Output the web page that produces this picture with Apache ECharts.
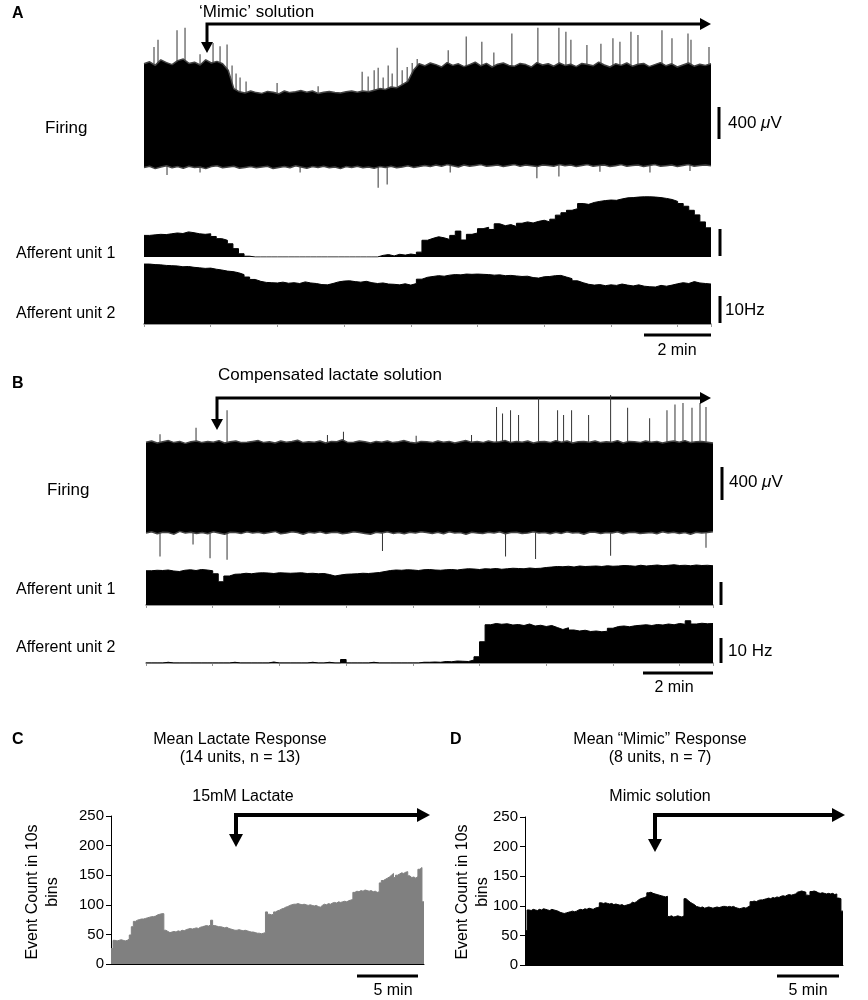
<!DOCTYPE html>
<html>
<head>
<meta charset="utf-8">
<title>Afferent firing responses</title>
<script src="https://cdn.jsdelivr.net/npm/echarts/dist/echarts.min.js"></script>
<style>
    html, body { margin: 0; padding: 0; background: #fff; }
    #main { width: 868px; height: 1000px; }
</style>
</head>
<body>
<div id="main"></div>
<script>
// panels A and B: 10 s bins over 17 min (102 bins)
const binMin = 1 / 6
const traceMin = 17

// A - raw firing envelope (uV), one value per bin
const aFireTop = [
    640, 665, 620, 690, 655, 630, 680, 700, 645, 660,
    625, 690, 650, 670, 640, 560, 330, 290, 275, 300,
    280, 270, 295, 285, 265, 300, 280, 290, 305, 285,
    300, 270, 285, 295, 280, 275, 290, 300, 285, 300,
    290, 310, 330, 320, 350, 340, 380, 420, 560, 640,
    615, 650, 630, 600, 655, 620, 640, 605, 630, 660,
    615, 645, 600, 635, 650, 620, 610, 645, 630, 600,
    655, 625, 640, 610, 650, 620, 635, 605, 645, 630,
    615, 660, 625, 600, 640, 620, 650, 610, 635, 645,
    605, 630, 655, 615, 640, 600, 625, 650, 610, 635,
    620, 640
]
const aFireBottom = [
    -655, -640, -670, -650, -635, -660, -645, -665, -640, -655,
    -650, -670, -645, -635, -660, -650, -640, -665, -655, -645,
    -660, -650, -640, -670, -655, -645, -660, -635, -650, -665,
    -645, -655, -640, -660, -650, -670, -645, -655, -640, -660,
    -650, -665, -645, -655, -640, -660, -650, -635, -655, -645,
    -630, -645, -625, -640, -620, -635, -650, -625, -640, -630,
    -620, -640, -635, -625, -645, -630, -620, -640, -625, -635,
    -645, -625, -630, -640, -620, -635, -625, -645, -630, -620,
    -640, -630, -625, -645, -635, -620, -640, -630, -625, -645,
    -630, -620, -640, -635, -625, -645, -630, -620, -640, -630,
    -625, -635
]
// single spikes sticking out of the envelope: [minute, uV]
const aSpikes = [
    [0.30, 850], [0.42, 940], [0.99, 1060], [1.23, 1090], [1.68, 760],
    [2.07, 900], [2.28, 860], [2.49, 880], [2.64, 620], [2.76, 520],
    [2.88, 470], [3.06, 420], [3.99, 400], [5.22, 360], [6.54, 540],
    [6.72, 480], [6.90, 560], [7.02, 590], [7.17, 470], [7.32, 620],
    [7.44, 520], [7.59, 840], [7.74, 560], [7.89, 600], [8.04, 650],
    [8.19, 700], [9.12, 810], [9.66, 980], [10.13, 915], [10.49, 780],
    [11.03, 1020], [11.81, 1090], [12.44, 1090], [12.65, 1040], [12.80, 940],
    [13.28, 875], [13.70, 890], [14.06, 960], [14.27, 915], [14.60, 1040],
    [14.81, 1000], [15.53, 1060], [15.83, 960], [16.31, 1020], [16.40, 940],
    [16.94, 850],
    [0.69, -750], [1.68, -720], [4.68, -720], [7.02, -910], [7.29, -870],
    [9.18, -720], [11.78, -790], [12.44, -770], [13.67, -710], [15.17, -720],
    [16.37, -700]
]
// A - afferent unit rates (Hz)
const aUnit1 = [
    8.0, 8.2, 8.4, 8.3, 8.6, 8.9, 8.7, 9.3, 9.0, 8.6,
    8.4, 8.6, 7.6, 6.8, 6.2, 4.9, 3.1, 1.2, 0.3, 0,
    0, 0, 0, 0, 0, 0, 0, 0, 0, 0,
    0, 0, 0, 0, 0, 0, 0, 0, 0, 0,
    0, 0, 0.6, 0.9, 0.4, 1.0, 0.7, 1.1, 0.8, 1.8,
    6.2, 6.9, 7.5, 7.1, 6.5, 8.0, 9.6, 6.3, 8.4, 8.9,
    10.5, 11.0, 10.2, 12.3, 11.6, 12.0, 11.3, 12.5, 13.0, 12.6,
    13.2, 13.6, 13.0, 14.0, 15.5, 16.4, 17.3, 17.9, 19.8, 19.5,
    20.2, 20.6, 20.9, 21.1, 21.0, 21.5, 21.9, 22.0, 22.2, 22.3,
    22.3, 22.2, 22.0, 21.7, 21.3, 20.6, 19.8, 18.8, 17.3, 15.6,
    13.0, 10.8
]
const aUnit2 = [
    22.2, 22.0, 21.9, 21.7, 21.6, 21.5, 21.2, 21.3, 21.0, 20.8,
    20.6, 20.7, 20.3, 20.0, 19.6, 19.4, 19.0, 18.3, 17.4, 16.5,
    15.8, 15.4, 15.3, 15.2, 15.5, 15.1, 15.3, 15.0, 15.6, 15.2,
    15.0, 14.6, 14.5, 15.0, 15.6, 15.9, 16.0, 15.7, 15.5, 15.8,
    15.3, 15.0, 15.2, 14.8, 14.7, 14.5, 14.9, 14.4, 15.0, 16.6,
    17.3, 17.6, 17.9, 17.7, 18.1, 18.3, 18.2, 18.5, 18.4, 18.5,
    18.4, 18.3, 18.1, 18.2, 17.9, 18.0, 17.8, 17.6, 17.7, 17.2,
    17.0, 17.5, 17.6, 17.9, 18.0, 17.4, 16.8, 16.0, 15.3, 14.7,
    14.4, 14.6, 14.2, 14.5, 14.3, 14.8, 14.4, 14.1, 14.5, 14.0,
    13.8, 13.7, 14.3, 14.0, 14.4, 14.9, 15.3, 15.0, 15.7, 15.2,
    15.0, 14.8
]

// B - raw firing envelope (uV)
const bFireTop = [
    560, 575, 550, 565, 580, 555, 570, 545, 565, 575,
    555, 570, 560, 580, 550, 565, 575, 555, 560, 570,
    580, 555, 565, 550, 575, 560, 570, 585, 555, 565,
    560, 575, 550, 570, 565, 590, 555, 560, 575, 565,
    550, 570, 560, 575, 555, 565, 580, 560, 550, 570,
    565, 555, 575, 560, 570, 550, 565, 580, 560, 570,
    555, 575, 560, 565, 580, 555, 570, 560, 575, 550,
    565, 570, 555, 580, 560, 575, 550, 565, 570, 560,
    575, 555, 565, 560, 580, 550, 570, 565, 555, 575,
    560, 570, 550, 565, 575, 560, 580, 555, 565, 570,
    560, 550
]
const bFireBottom = [
    -575, -560, -585, -565, -570, -590, -555, -575, -565, -580,
    -570, -585, -560, -575, -590, -565, -570, -580, -560, -575,
    -565, -580, -570, -555, -585, -575, -560, -570, -590, -565,
    -575, -560, -580, -570, -565, -585, -575, -560, -570, -580,
    -590, -565, -575, -560, -580, -570, -585, -565, -575, -560,
    -570, -580, -565, -585, -560, -575, -570, -590, -565, -575,
    -580, -565, -575, -560, -585, -570, -565, -580, -575, -560,
    -575, -570, -585, -565, -580, -560, -575, -570, -590, -565,
    -565, -580, -570, -575, -560, -585, -570, -565, -580, -575,
    -570, -585, -560, -575, -565, -580, -570, -590, -565, -575,
    -570, -560
]
const bSpikes = [
    [0.42, 660], [1.50, 740], [2.43, 960], [5.44, 650], [5.92, 690],
    [8.10, 640], [9.76, 650], [10.51, 1000], [10.69, 920], [10.93, 960],
    [11.17, 900], [11.77, 1110], [12.34, 960], [12.52, 900], [12.76, 960],
    [13.27, 900], [13.93, 1150], [14.44, 990], [15.10, 860], [15.62, 960],
    [15.86, 1030], [16.10, 1050], [16.37, 990], [16.61, 1050], [16.79, 1000],
    [0.42, -870], [1.41, -720], [1.92, -890], [2.43, -910], [7.09, -800],
    [10.78, -870], [11.68, -900], [13.93, -860], [16.79, -760]
]
const bUnit1 = [
    13.7, 13.9, 13.8, 14.0, 13.6, 13.4, 13.9, 14.1, 13.8, 14.2,
    14.0, 13.7, 12.5, 9.3, 11.6, 12.3, 12.4, 12.7, 12.5, 12.8,
    12.9, 12.8, 12.6, 12.9, 12.8, 12.7, 12.8, 12.9, 12.6, 12.7,
    12.5, 12.6, 12.2, 11.6, 12.0, 12.3, 12.4, 12.5, 12.7, 12.6,
    12.8, 13.0, 13.4, 13.8, 14.0, 13.9, 14.1, 14.0, 13.8, 14.1,
    14.2, 14.0, 13.9, 14.1, 14.2, 14.0, 14.3, 14.5, 14.4, 14.2,
    14.5, 14.4, 14.6, 14.3, 14.5, 14.7, 14.6, 14.5, 14.8, 14.6,
    14.7, 15.0, 15.2, 15.4, 15.3, 15.5, 15.2, 15.6, 15.4, 15.5,
    15.6, 15.4, 15.7, 15.5, 15.6, 15.8, 15.7, 15.5, 15.9, 15.6,
    15.8, 16.0, 15.7, 15.9, 16.1, 15.8, 15.9, 15.7, 16.0, 15.8,
    15.9, 15.7
]
const bUnit2 = [
    0, 0, 0, 0.3, 0, 0, 0, 0, 0, 0,
    0, 0, 0, 0, 0, 0.3, 0, 0, 0, 0,
    0, 0, 0.4, 0, 0, 0, 0, 0, 0, 0.3,
    0, 0, 0.3, 0, 0, 1.4, 0, 0, 0, 0,
    0.3, 0, 0, 0, 0, 0, 0, 0, 0, 0.3,
    0.3, 0.4, 0.3, 0.6, 0.5, 0.8, 0.7, 0.6, 1.2, 2.5,
    8.5, 15.3, 15.8, 15.5, 15.7, 15.2, 15.4, 15.0, 15.6, 14.8,
    15.1, 14.6, 15.0, 14.2, 13.4, 14.1, 13.2, 12.8, 13.1, 12.6,
    12.8, 12.5, 12.7, 13.9, 14.6, 14.8, 14.5, 14.9, 15.1, 15.3,
    15.0, 15.4, 15.2, 15.6, 15.3, 15.8, 15.5, 16.9, 15.6, 15.9,
    15.7, 15.8
]

// C and D: mean event count per 10 s bin (154 bins)
const lactateMean = [
    26, 40, 39, 40, 41, 40, 39, 40, 42, 49,
    63, 72, 74, 75, 76, 76, 77, 78, 79, 80,
    80, 81, 83, 84, 85, 85, 57, 55, 53, 54,
    55, 54, 56, 55, 57, 56, 58, 59, 60, 59,
    60, 61, 60, 62, 63, 64, 65, 64, 66, 74,
    65, 64, 63, 63, 62, 61, 62, 60, 59, 58,
    57, 57, 58, 57, 56, 57, 56, 55, 54, 54,
    53, 52, 52, 51, 52, 53, 88, 84, 83, 84,
    88, 90, 91, 93, 94, 96, 97, 99, 100, 101,
    101, 102, 101, 100, 101, 100, 99, 100, 99, 98,
    99, 97, 96, 99, 101, 100, 102, 101, 103, 104,
    103, 105, 104, 105, 106, 105, 107, 108, 109, 121,
    123, 122, 124, 123, 125, 124, 123, 124, 122, 123,
    121, 122, 137, 141, 143, 145, 147, 150, 153, 146,
    150, 152, 154, 153, 155, 156, 149, 146, 147, 145,
    148, 160, 163, 105
]
const mimicMean = [
    58, 93, 92, 94, 93, 92, 94, 93, 95, 94,
    93, 92, 94, 93, 92, 91, 89, 88, 87, 88,
    89, 90, 91, 90, 91, 93, 94, 93, 95, 94,
    96, 95, 94, 96, 97, 98, 105, 104, 105, 104,
    103, 104, 102, 103, 102, 101, 102, 100, 101, 102,
    103, 106, 105, 107, 110, 112, 113, 114, 116, 122,
    123, 121, 120, 119, 118, 117, 116, 115, 116, 82,
    83, 81, 82, 83, 82, 81, 83, 112, 109, 106,
    104, 102, 99, 98, 97, 98, 96, 97, 98, 97,
    96, 97, 98, 97, 98, 99, 99, 98, 99, 98,
    99, 97, 96, 95, 96, 97, 96, 98, 100, 107,
    108, 107, 109, 110, 110, 111, 112, 113, 112, 114,
    113, 115, 114, 116, 117, 116, 118, 119, 118, 119,
    120, 123, 124, 125, 124, 123, 118, 117, 124, 125,
    124, 122, 121, 122, 121, 120, 121, 120, 121, 119,
    120, 113, 112, 91
]
const countTicks = [0, 50, 100, 150, 200, 250]

const FONT = 'Liberation Sans, Arial, sans-serif'

// histogram: hold each bin value until the next bin
function steps(values, dt) {
    let pts = values.map((v, i) => [i * dt, v])
    pts.push([values.length * dt, values[values.length - 1]])
    return pts
}

// envelope points spread over the whole trace
function envelope(values, span) {
    return values.map((v, i) => [i * span / (values.length - 1), v])
}

function hiddenAxis(grid, min, max) {
    return { type: 'value', gridIndex: grid, min: min, max: max, show: false }
}

function baseAxis(grid, ticks) {
    return {
        type: 'value', gridIndex: grid, min: 0, max: traceMin, interval: 2,
        axisLine: { show: true, lineStyle: { color: '#777', width: 1.5 } },
        axisTick: { show: ticks, length: 3, lineStyle: { color: '#999' } },
        axisLabel: { show: false },
        splitLine: { show: false }
    }
}

function areaLine(x, y, data, color, step, edge) {
    return {
        type: 'line', xAxisIndex: x, yAxisIndex: y, data: data,
        step: step ? 'end' : false, symbol: 'none', silent: true,
        lineStyle: { color: edge || color, width: edge ? 1.5 : 1 },
        areaStyle: { color: color, opacity: 1 }
    }
}

function spikeBars(x, y, data) {
    return {
        type: 'bar', xAxisIndex: x, yAxisIndex: y, data: data,
        barWidth: 1, silent: true, itemStyle: { color: '#333' }
    }
}

function countAxis(grid) {
    return {
        type: 'value', gridIndex: grid,
        min: countTicks[0], max: countTicks[countTicks.length - 1],
        interval: countTicks[1] - countTicks[0],
        axisLine: { show: true, lineStyle: { color: '#000', width: 1 } },
        axisTick: { show: true, length: 5, lineStyle: { color: '#000' } },
        axisLabel: { margin: 7, fontSize: 15, color: '#000', fontFamily: FONT },
        splitLine: { show: false }
    }
}

function binAxis(grid, n) {
    return {
        type: 'value', gridIndex: grid, min: 0, max: n,
        axisLine: { show: true, onZero: false, lineStyle: { color: '#000', width: 1 } },
        axisTick: { show: false }, axisLabel: { show: false }, splitLine: { show: false }
    }
}

// ---- annotations (text, arrows, scale bars) ----
function text(x, y, str, size, align, extra) {
    return Object.assign({
        type: 'text', x: x, y: y, silent: true,
        style: {
            text: str, fontSize: size, fontFamily: FONT, fill: '#000',
            align: align || 'left', verticalAlign: 'middle'
        }
    }, extra || {})
}

function letter(x, y, str) {
    return { type: 'text', x: x, y: y, silent: true,
        style: { text: str, fontSize: 16, fontWeight: 'bold', fontFamily: FONT, fill: '#000', verticalAlign: 'middle' } }
}

function rotated(x, y, str) {
    return { type: 'text', x: x, y: y, rotation: Math.PI / 2, silent: true,
        style: { text: str, fontSize: 16, fontFamily: FONT, fill: '#000', align: 'center', verticalAlign: 'middle', lineHeight: 20 } }
}

function bar(x1, y1, x2, y2, w) {
    return { type: 'line', silent: true, shape: { x1: x1, y1: y1, x2: x2, y2: y2 },
        style: { stroke: '#000', lineWidth: w || 3 } }
}

function arrow(x, yTop, yTip, xTip, w, head) {
    let hl = head, hw = head / 2 + 0.5
    return [
        { type: 'polyline', silent: true,
          shape: { points: [[x, yTip - hl + 1], [x, yTop], [xTip - hl + 1, yTop]] },
          style: { stroke: '#000', lineWidth: w, fill: null } },
        { type: 'polygon', silent: true,
          shape: { points: [[x - hw, yTip - hl], [x + hw, yTip - hl], [x, yTip]] },
          style: { fill: '#000' } },
        { type: 'polygon', silent: true,
          shape: { points: [[xTip - hl, yTop - hw], [xTip - hl, yTop + hw], [xTip, yTop]] },
          style: { fill: '#000' } }
    ]
}

function microvolt(x, y) {
    return { type: 'text', x: x, y: y, silent: true,
        style: { text: '400 {i|\u03bc}V', fontSize: 17, fontFamily: FONT, fill: '#000', verticalAlign: 'middle',
                 rich: { i: { fontStyle: 'italic', fontSize: 17, fontFamily: FONT } } } }
}

let graphics = [
    letter(12, 14, 'A'),
    letter(12, 384, 'B'),
    letter(12, 740, 'C'),
    letter(450, 740, 'D'),

    // panel A
    text(199, 12, '\u2018Mimic\u2019 solution', 17),
    text(45, 128, 'Firing', 17),
    text(16, 254, 'Afferent unit 1', 16),
    text(16, 314, 'Afferent unit 2', 16),
    bar(719, 107, 719, 139),
    microvolt(728, 123),
    bar(720, 229, 720, 256),
    bar(720, 296, 720, 323),
    text(725, 310, '10Hz', 17),
    bar(644, 335, 711, 335),
    text(677, 351, '2 min', 16, 'center'),

    // panel B
    text(218, 375, 'Compensated lactate solution', 17),
    text(47, 490, 'Firing', 17),
    text(16, 590, 'Afferent unit 1', 16),
    text(16, 648, 'Afferent unit 2', 16),
    bar(722, 467, 722, 500),
    microvolt(729, 482),
    bar(721, 582, 721, 605),
    bar(721, 638, 721, 663),
    text(728, 651, '10 Hz', 17),
    bar(643, 673, 713, 673),
    text(674, 688, '2 min', 16, 'center'),

    // panel C
    text(240, 740, 'Mean Lactate Response', 16, 'center'),
    text(240, 758, '(14 units, n = 13)', 16, 'center'),
    text(243, 797, '15mM Lactate', 16, 'center'),
    rotated(43, 892, 'Event Count in 10s\nbins'),
    bar(357, 976, 418, 976),
    text(393, 991, '5 min', 16, 'center'),

    // panel D
    text(660, 740, 'Mean \u201cMimic\u201d Response', 16, 'center'),
    text(660, 758, '(8 units, n = 7)', 16, 'center'),
    text(660, 797, 'Mimic solution', 16, 'center'),
    rotated(473, 892, 'Event Count in 10s\nbins'),
    bar(777, 976, 839, 976),
    text(808, 991, '5 min', 16, 'center')
]
graphics = graphics
    .concat(arrow(207, 24, 53, 711, 3, 11))
    .concat(arrow(217, 398, 430, 711, 3, 11))
    .concat(arrow(236, 815, 847, 430, 4, 13))
    .concat(arrow(655, 815, 852, 845, 4, 13))

const chart = echarts.init(document.getElementById('main'))

const option = {
    animation: false,
    backgroundColor: '#fff',
    grid: [
        { left: 144, top: 20, width: 567, height: 170 },   // 0 A firing
        { left: 144, top: 190, width: 567, height: 67 },   // 1 A unit 1
        { left: 144, top: 260, width: 567, height: 64 },   // 2 A unit 2
        { left: 146, top: 375, width: 567, height: 195 },  // 3 B firing
        { left: 146, top: 560, width: 567, height: 45 },   // 4 B unit 1
        { left: 146, top: 613, width: 567, height: 50 },   // 5 B unit 2
        { left: 111, top: 816, width: 313, height: 148 },  // 6 C
        { left: 525, top: 817, width: 318, height: 148 }   // 7 D
    ],
    xAxis: [
        hiddenAxis(0, 0, traceMin),
        hiddenAxis(1, 0, traceMin),
        baseAxis(2, true),
        hiddenAxis(3, 0, traceMin),
        baseAxis(4, true),
        baseAxis(5, true),
        binAxis(6, lactateMean.length),
        binAxis(7, mimicMean.length)
    ],
    yAxis: [
        hiddenAxis(0, -937.5, 1187.5),
        hiddenAxis(1, 0, 67 / 2.7),
        hiddenAxis(2, 0, 64 / 2.7),
        hiddenAxis(3, -1037.5, 1400),
        hiddenAxis(4, 0, 18),
        hiddenAxis(5, 0, 20),
        countAxis(6),
        countAxis(7)
    ],
    series: [
        // raw trace: soft grey edge on the black envelope
        areaLine(0, 0, envelope(aFireTop, traceMin), '#000', false, '#444'),
        areaLine(0, 0, envelope(aFireBottom, traceMin), '#000', false, '#444'),
        spikeBars(0, 0, aSpikes),
        areaLine(1, 1, steps(aUnit1, binMin), '#000', true),
        areaLine(2, 2, steps(aUnit2, binMin), '#000', true),

        areaLine(3, 3, envelope(bFireTop, traceMin), '#000', false, '#444'),
        areaLine(3, 3, envelope(bFireBottom, traceMin), '#000', false, '#444'),
        spikeBars(3, 3, bSpikes),
        areaLine(4, 4, steps(bUnit1, binMin), '#000', true),
        areaLine(5, 5, steps(bUnit2, binMin), '#000', true),

        areaLine(6, 6, steps(lactateMean, 1), '#808080', true),
        areaLine(7, 7, steps(mimicMean, 1), '#000', true)
    ],
    graphic: graphics
}

chart.setOption(option)
</script>
</body>
</html>
